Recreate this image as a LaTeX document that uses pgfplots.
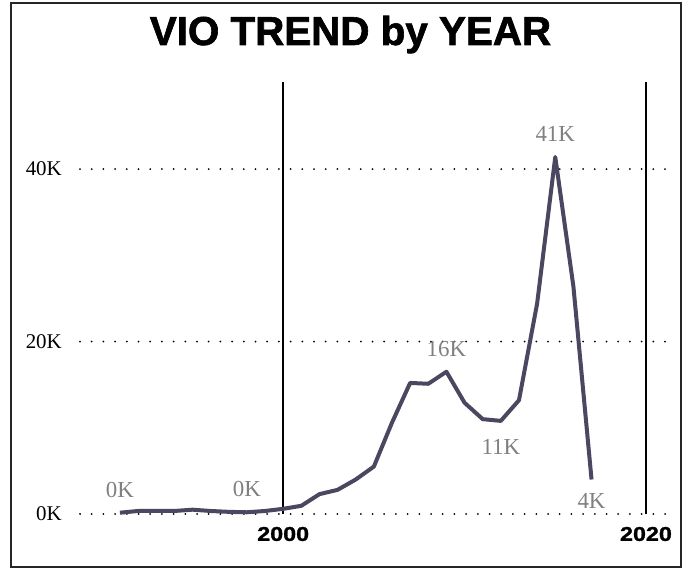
\documentclass[border=0pt]{standalone}
\usepackage{fontspec}
\setmainfont{Liberation Serif}
\newfontfamily\titlef{Liberation Sans}[BoldFeatures={FakeBold=1.6}]
\newfontfamily\tickf{Liberation Sans}[FakeStretch=1.17, BoldFeatures={FakeBold=1.4}]
\usepackage{pgfplots}
\pgfplotsset{compat=1.18}
\definecolor{serie}{RGB}{75,71,96}
\definecolor{lab}{RGB}{128,128,128}
\pgfplotstableread{
x y
1991 0.15
1992 0.35
1993 0.35
1994 0.35
1995 0.5
1996 0.35
1997 0.25
1998 0.2
1999 0.35
2000 0.6
2001 0.95
2002 2.3
2003 2.8
2004 4.0
2005 5.5
2006 10.6
2007 15.2
2008 15.1
2009 16.5
2010 12.9
2011 11.0
2012 10.8
2013 13.2
2014 24.4
2015 41.4
2016 26.4
2017 4.0
}\datatable
\pgfplotstableread{
x y l
1991 0.15 0K
1998 0.2 0K
2009 16.5 16K
2015 41.4 41K
}\abovetable
\pgfplotstableread{
x y l
2012 10.8 11K
}\belowtable
\pgfplotstableread{
x y l
2017 4.0 4K
}\belowtableb
\begin{document}
\begin{tikzpicture}
\path[use as bounding box, fill=white] (0,0) rectangle (692bp,570bp);
\draw[line width=2bp, black!85] (11bp,3bp) rectangle (681bp,567bp);
\node[anchor=base, inner sep=0pt, font=\titlef\bfseries\fontsize{40.5}{48}\selectfont] at (350.5bp,525bp) {VIO TREND by YEAR};
\begin{axis}[
 at={(80bp,56bp)}, anchor=south west,
 scale only axis, width=585bp, height=432bp,
 xmin=1988.8, xmax=2021.05, ymin=0, ymax=50.1,
 axis line style={draw=none},
 major tick length=0pt,
 xtick={2000,2020}, xticklabels={2000,2020},
 ytick={0,20,40}, yticklabels={0K,20K,40K},
 xmajorgrids, ymajorgrids,
 x grid style={black, line width=1.5bp},
 y grid style={black, line width=2bp, line cap=round, dash pattern=on 0bp off 11.7bp},
 x tick label style={font=\tickf\bfseries\fontsize{20}{24}\selectfont, anchor=center, inner sep=0pt, yshift=-20bp},
 y tick label style={font=\fontsize{21}{24}\selectfont, anchor=east, inner sep=0pt, xshift=-18bp},
 clip=false,
]
\addplot[serie, line width=4bp, line join=round, mark=none] table[x=x,y=y] {\datatable};
\addplot[draw=none, mark=none, nodes near coords, point meta=explicit symbolic,
  every node near coord/.append style={anchor=center, yshift=23bp, text=lab, font=\fontsize{23}{26}\selectfont, inner sep=0pt}]
  table[x=x,y=y,meta=l] {\abovetable};
\addplot[draw=none, mark=none, nodes near coords, point meta=explicit symbolic,
  every node near coord/.append style={anchor=center, yshift=-26bp, text=lab, font=\fontsize{23}{26}\selectfont, inner sep=0pt}]
  table[x=x,y=y,meta=l] {\belowtable};
\addplot[draw=none, mark=none, nodes near coords, point meta=explicit symbolic,
  every node near coord/.append style={anchor=center, yshift=-21bp, text=lab, font=\fontsize{23}{26}\selectfont, inner sep=0pt}]
  table[x=x,y=y,meta=l] {\belowtableb};
\end{axis}
\end{tikzpicture}
\end{document}
